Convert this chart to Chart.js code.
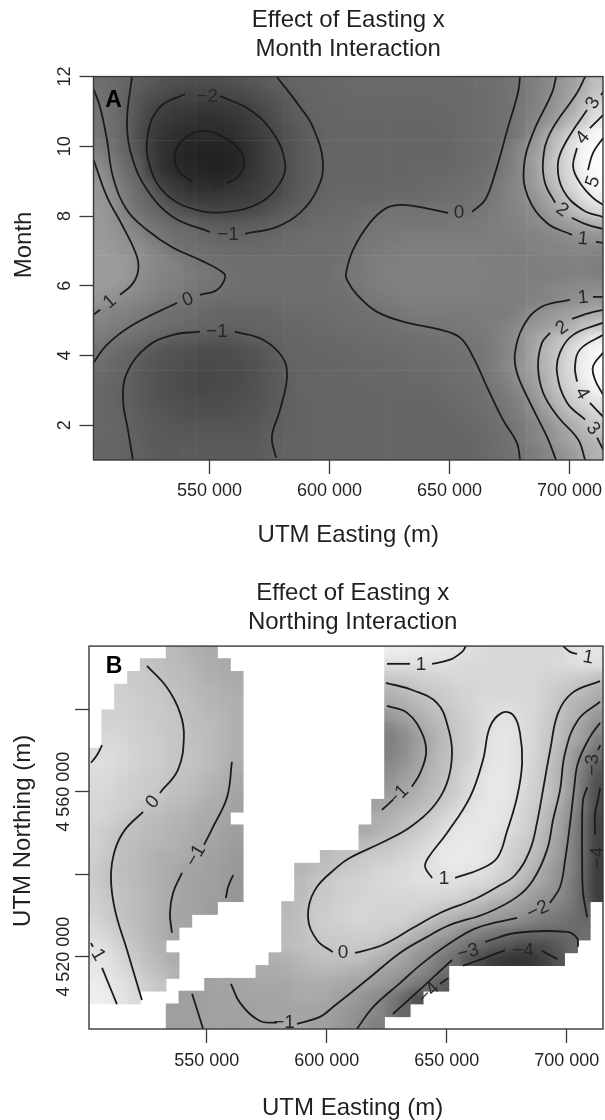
<!DOCTYPE html>
<html>
<head>
<meta charset="utf-8">
<script src="https://cdn.jsdelivr.net/npm/chart.js@4/dist/chart.umd.min.js"></script>
<style>
body { margin: 0; background: #fff; width: 605px; height: 1120px; position: relative; overflow: hidden; }
canvas { position: absolute; left: 0; }
#panelA { top: 0; }
#panelB { top: 560px; }
</style>
</head>
<body>
<canvas id="panelA" width="605" height="560"></canvas>
<canvas id="panelB" width="605" height="560"></canvas>
<script>
// axes in km, months for panel A, northing km for panel B
const xRangeA = [501.67, 713.96];
const yRangeA = [1, 12];
const xRangeB = [500.96, 715.1];
const yRangeB = [4502.47, 4595.3];
const xTicks = [550, 600, 650, 700];
const monthTicks = [2, 4, 6, 8, 10, 12];
const northingTicks = [4520, 4540, 4560, 4580];
const northingLabelled = [4520, 4560];

// effect x 10 -> gray level
const grayStopsA = [[-40,26],[-30,45],[-20,69],[-10,97],[0,115],[10,142],[50,250],[60,255]];
const grayStopsB = [[-55,41],[20,251]];

// grid cell centres
const eastA = [504.3,509.6,514.9,520.2,525.5,530.8,536.1,541.4,546.8,552.1,557.4,562.7,568.0,573.3,578.6,583.9,589.2,594.5,599.8,605.1,610.4,615.8,621.1,626.4,631.7,637.0,642.3,647.6,652.9,658.2,663.5,668.8,674.1,679.4,684.8,690.1,695.4,700.7,706.0,711.3];
const monthA = [11.82,11.45,11.08,10.72,10.35,9.98,9.62,9.25,8.88,8.52,8.15,7.78,7.42,7.05,6.68,6.32,5.95,5.58,5.22,4.85,4.48,4.12,3.75,3.38,3.02,2.65,2.28,1.92,1.55,1.18];
const eastB = [503.6,509.0,514.3,519.7,525.0,530.4,535.8,541.1,546.5,551.8,557.2,562.5,567.9,573.2,578.6,583.9,589.3,594.7,600.0,605.4,610.7,616.1,621.4,626.8,632.1,637.5,642.9,648.2,653.6,658.9,664.3,669.6,675.0,680.3,685.7,691.1,696.4,701.8,707.1,712.5];
const northB = [4593.8,4590.7,4587.6,4584.5,4581.4,4578.3,4575.2,4572.1,4569.0,4565.9,4562.8,4559.7,4556.6,4553.5,4550.4,4547.3,4544.2,4541.1,4538.0,4534.9,4531.8,4528.7,4525.6,4522.5,4519.4,4516.3,4513.2,4510.1,4507.0,4503.9];

// effect x 10, one row per month band
const effectA = [
[-2,-5,-8,-11,-13,-15,-16,-17,-17,-17,-16,-15,-14,-12,-10,-9,-8,-7,-6,-6,-5,-5,-5,-5,-5,-5,-5,-5,-5,-4,-3,-2,-1,1,4,7,12,16,21,28],
[-1,-5,-9,-13,-16,-18,-20,-21,-21,-21,-20,-19,-17,-15,-13,-11,-9,-8,-7,-6,-6,-6,-6,-6,-6,-6,-6,-5,-5,-5,-4,-3,-1,1,4,8,12,18,24,31],
[0,-4,-9,-14,-19,-22,-24,-25,-26,-26,-25,-24,-21,-18,-15,-12,-10,-8,-7,-7,-6,-6,-6,-6,-6,-6,-6,-6,-5,-5,-4,-3,-1,2,5,9,14,20,29,38],
[1,-3,-9,-15,-21,-24,-26,-28,-29,-29,-28,-26,-23,-20,-16,-13,-11,-9,-7,-7,-7,-7,-7,-7,-7,-7,-7,-6,-6,-5,-4,-3,-1,2,6,11,17,25,33,43],
[1,-3,-9,-16,-23,-27,-29,-31,-31,-31,-30,-28,-25,-22,-18,-15,-12,-10,-8,-7,-7,-7,-7,-7,-7,-7,-7,-7,-6,-5,-4,-3,-1,2,9,18,27,35,42,50],
[3,-1,-8,-15,-23,-28,-31,-33,-34,-34,-34,-31,-27,-23,-19,-15,-12,-10,-8,-7,-7,-7,-7,-7,-7,-7,-7,-7,-6,-5,-4,-2,2,7,13,21,30,40,48,54],
[7,2,-5,-12,-22,-28,-32,-35,-36,-36,-36,-33,-27,-23,-19,-15,-12,-10,-8,-7,-7,-7,-7,-7,-7,-7,-7,-7,-6,-5,-4,-1,3,8,15,24,32,39,49,56],
[10,5,-3,-10,-21,-27,-31,-33,-34,-35,-34,-31,-26,-23,-19,-15,-12,-10,-8,-7,-7,-7,-7,-7,-7,-6,-6,-6,-5,-4,-2,0,3,8,14,24,32,39,47,54],
[13,8,1,-5,-14,-22,-26,-29,-30,-30,-29,-26,-24,-22,-19,-15,-12,-10,-8,-7,-7,-7,-7,-6,-6,-6,-5,-5,-4,-3,-1,2,5,8,14,21,29,37,44,50],
[13,10,3,-3,-9,-15,-21,-24,-25,-25,-24,-24,-23,-20,-17,-14,-11,-9,-7,-6,-6,-6,-6,-5,-5,-5,-4,-3,-2,-1,0,2,5,8,12,17,24,32,40,45],
[14,11,5,0,-5,-10,-14,-17,-19,-20,-20,-19,-18,-16,-13,-11,-9,-7,-6,-5,-5,-3,-1,0,0,0,0,0,0,0,1,3,5,7,9,13,18,25,32,38],
[14,12,8,4,0,-3,-7,-9,-11,-12,-13,-12,-12,-11,-10,-8,-7,-5,-4,-4,-2,0,1,1,1,1,1,1,2,2,3,4,5,6,8,10,13,16,19,23],
[14,13,10,7,3,1,-2,-4,-6,-8,-9,-9,-8,-7,-6,-5,-4,-3,-3,-3,-1,1,2,2,3,3,3,3,3,3,3,4,4,5,6,7,8,10,11,12],
[15,14,12,11,7,4,0,-2,-3,-4,-5,-5,-5,-5,-4,-4,-3,-3,-3,-2,0,2,3,4,4,4,4,4,4,4,4,4,4,4,5,6,6,7,7,7],
[15,15,14,12,9,7,5,2,0,-1,-2,-3,-3,-3,-3,-3,-3,-3,-3,-1,1,3,4,4,5,5,5,5,5,5,4,4,4,4,4,5,5,5,5,4],
[15,15,14,10,8,6,5,3,2,0,-1,-2,-2,-3,-3,-3,-3,-3,-2,0,2,3,4,5,5,5,5,5,5,5,5,4,4,4,4,4,4,5,5,4],
[15,14,12,9,7,5,4,2,1,0,-1,-2,-2,-3,-3,-3,-3,-3,-2,-1,1,3,4,4,5,5,5,5,5,5,4,4,4,4,5,6,7,8,9,9],
[13,10,8,7,5,3,2,0,-2,-3,-4,-4,-4,-4,-4,-3,-3,-3,-2,-2,-1,1,2,3,4,4,4,4,4,4,4,4,4,4,5,6,8,10,12,13],
[8,6,5,3,1,-1,-2,-4,-5,-7,-8,-8,-8,-7,-6,-5,-5,-4,-4,-3,-2,-1,0,1,2,3,3,3,3,3,3,3,3,6,10,12,14,16,19,21],
[5,4,3,1,-1,-3,-4,-6,-8,-8,-9,-9,-9,-8,-7,-6,-6,-5,-5,-4,-3,-3,-2,-1,0,1,1,1,2,2,3,4,6,9,13,15,18,22,28,31],
[3,1,-1,-3,-6,-9,-11,-12,-13,-14,-14,-13,-11,-10,-9,-8,-7,-6,-6,-5,-5,-4,-4,-3,-3,-2,-1,0,0,1,2,4,7,12,17,22,28,32,39,44],
[-1,-3,-6,-9,-12,-14,-15,-16,-17,-17,-17,-16,-15,-13,-10,-8,-8,-7,-7,-6,-6,-5,-5,-5,-4,-3,-3,-2,-1,0,1,3,7,10,18,25,30,38,45,49],
[-3,-6,-8,-11,-14,-15,-16,-17,-18,-18,-17,-17,-16,-14,-12,-9,-8,-8,-7,-7,-6,-6,-6,-5,-5,-4,-4,-3,-2,-1,1,4,8,12,18,24,31,39,46,54],
[-5,-7,-9,-12,-14,-16,-17,-18,-19,-19,-18,-18,-16,-14,-12,-10,-8,-8,-7,-7,-7,-6,-6,-6,-6,-5,-5,-4,-3,-2,0,3,6,11,16,23,31,38,46,52],
[-6,-8,-10,-12,-14,-16,-17,-18,-19,-18,-18,-17,-16,-14,-12,-10,-8,-8,-7,-7,-7,-7,-7,-6,-6,-6,-6,-5,-4,-3,-2,1,4,8,14,21,29,36,42,48],
[-6,-8,-10,-12,-14,-15,-16,-17,-17,-17,-17,-16,-15,-14,-12,-10,-9,-8,-8,-7,-7,-7,-7,-7,-7,-7,-7,-6,-5,-4,-3,0,2,6,11,18,25,32,37,42],
[-6,-8,-9,-11,-13,-14,-15,-16,-16,-16,-16,-15,-15,-13,-11,-10,-9,-8,-8,-8,-7,-7,-7,-7,-7,-7,-7,-7,-6,-5,-4,-2,1,4,8,14,20,26,30,36],
[-6,-7,-9,-11,-12,-13,-14,-14,-14,-14,-14,-14,-14,-12,-11,-10,-9,-8,-8,-8,-8,-7,-7,-7,-7,-7,-7,-7,-7,-6,-5,-3,-1,2,6,10,15,20,26,31],
[-7,-8,-9,-10,-12,-13,-13,-13,-13,-13,-13,-13,-13,-11,-10,-9,-9,-8,-8,-8,-8,-8,-7,-7,-7,-7,-7,-7,-7,-7,-6,-4,-1,2,6,9,14,18,22,25],
[-7,-8,-9,-10,-11,-12,-12,-12,-12,-12,-12,-12,-12,-11,-10,-9,-9,-8,-8,-8,-8,-8,-7,-7,-7,-7,-7,-7,-7,-7,-6,-4,-2,0,3,6,10,14,20,23]
];

// panel B has holes, so each row is a list of runs: [first column, values...]
const effectB = [
[[6,-3,-5,-7,-9],[23,15,15,14,14,13,12,10,9,8,8,8,8,8,8,10,12,12]],
[[4,0,-1,-3,-4,-6,-8,-9],[23,10,10,10,10,10,9,8,8,7,7,7,7,7,8,9,10,10]],
[[3,3,2,0,-2,-3,-5,-7,-8,-9],[23,2,3,4,5,6,7,7,7,7,7,7,7,6,5,4,2,0]],
[[2,4,3,2,1,0,-2,-4,-5,-7,-8],[23,-5,-2,0,2,3,5,6,7,7,7,7,7,5,3,0,-3,-7]],
[[2,5,4,3,2,0,-1,-3,-5,-6,-7],[23,-9,-7,-4,-1,2,4,6,8,9,9,8,7,5,1,-4,-7,-10]],
[[1,5,5,4,3,2,1,-1,-2,-4,-5,-7],[23,-15,-11,-8,-4,-1,2,5,7,10,11,9,7,4,0,-5,-10,-16]],
[[1,6,6,5,4,2,1,0,-2,-3,-5,-7],[23,-22,-18,-12,-7,-3,1,4,8,11,12,10,7,3,-1,-7,-13,-20]],
[[1,8,7,5,4,3,1,0,-1,-3,-5,-7],[23,-24,-20,-14,-9,-4,1,4,8,12,13,10,7,3,-2,-9,-14,-25]],
[[0,9,9,8,6,4,3,1,0,-1,-3,-5,-7],[23,-23,-19,-13,-8,-3,1,4,9,12,13,10,7,2,-3,-13,-22,-31]],
[[0,10,9,7,6,4,3,1,0,-1,-3,-6,-8],[23,-20,-16,-11,-6,-2,2,6,10,12,13,10,6,2,-5,-13,-25,-37]],
[[0,9,8,6,4,3,2,0,-1,-3,-5,-7,-10],[23,-17,-13,-10,-5,-1,3,8,11,13,13,10,6,1,-6,-14,-28,-41]],
[[0,8,7,5,4,3,1,-1,-2,-4,-6,-8,-11],[23,-14,-10,-7,-3,0,4,8,11,13,13,9,5,1,-5,-14,-29,-42]],
[[0,7,6,5,3,1,-1,-3,-4,-6,-8,-9,-12],[22,-12,-9,-7,-4,-1,2,6,10,12,13,12,8,4,-1,-7,-17,-29,-42]],
[[0,7,5,3,0,-2,-3,-5,-6,-8,-9,-11],[22,-8,-6,-3,0,3,6,10,12,13,13,11,7,3,-3,-10,-19,-31,-45]],
[[0,5,3,0,-1,-3,-4,-6,-7,-9,-10,-12,-13],[21,-9,-6,-4,-1,2,5,9,12,13,13,12,10,6,2,-5,-11,-21,-32,-46]],
[[0,5,2,-1,-2,-4,-5,-6,-8,-10,-11,-12,-14],[21,-3,-1,1,3,6,9,12,13,14,13,11,7,4,0,-6,-13,-22,-32,-46]],
[[0,4,1,-1,-3,-5,-7,-8,-9,-10,-12,-13,-15],[18,-3,-1,0,2,3,4,6,8,10,13,14,14,13,11,6,2,-2,-8,-14,-22,-33,-47]],
[[0,3,0,-2,-3,-5,-7,-9,-11,-11,-13,-14,-15],[16,-5,-3,-1,1,3,4,6,7,8,10,11,12,13,12,11,8,5,0,-5,-11,-17,-23,-33,-48]],
[[0,3,0,-1,-3,-5,-7,-9,-11,-12,-13,-14,-16],[16,-3,0,2,4,5,6,7,8,9,10,10,10,10,9,8,6,2,-2,-8,-12,-18,-25,-34,-48]],
[[0,4,1,0,-2,-4,-7,-9,-11,-12,-13,-14,-16],[16,-3,1,2,4,5,6,6,7,7,7,8,7,7,4,2,-1,-4,-9,-13,-17,-19,-25,-35,-47]],
[[0,5,2,0,-2,-4,-7,-10,-11,-12,-14],[15,-4,-2,2,3,5,6,7,6,6,6,6,4,2,0,-3,-6,-10,-12,-14,-17,-20,-24,-27,-34]],
[[0,7,3,0,-2,-4,-7,-10,-11],[15,-3,-1,2,4,5,6,6,5,5,5,1,-1,-5,-8,-11,-13,-15,-17,-20,-23,-26,-28,-30,-33]],
[[0,9,6,2,-1,-4,-7,-10],[15,-3,-1,2,3,3,4,4,4,2,0,-5,-9,-12,-16,-21,-24,-27,-29,-31,-32,-33,-33,-32,-30]],
[[0,11,9,5,1,-3,-6],[15,-2,-1,0,1,2,2,2,0,-4,-8,-11,-16,-20,-25,-29,-33,-37,-39,-42,-43,-42,-38,-33]],
[[0,12,11,7,3,-1,-4,-8],[14,-7,-6,-4,-2,-1,-1,-1,-3,-6,-9,-11,-17,-20,-26,-30,-39,-43,-48,-50,-51,-50,-46,-40]],
[[0,13,12,9,5,1,-2,-6],[13,-9,-9,-8,-6,-5,-4,-5,-7,-8,-11,-13,-15,-19,-24,-30]],
[[0,15,13,11,8,4,1],[9,-12,-11,-11,-10,-10,-10,-10,-9,-8,-9,-10,-11,-12,-14,-17,-21,-27,-31,-37]],
[[0,16,15,12,9],[7,-13,-13,-12,-12,-11,-11,-11,-11,-10,-9,-9,-10,-12,-14,-17,-20,-26,-32,-40]],
[[6,-13,-13,-13,-12,-12,-12,-12,-11,-11,-11,-11,-11,-12,-14,-16,-19,-21,-27,-33]],
[[6,-13,-13,-12,-12,-12,-12,-11,-11,-10,-10,-10,-12,-13,-15,-18,-21,-24]]
];

// contour pieces, [easting km, month]
const contoursA = [
[[501.7,11.64],[504.4,11.13],[507.3,10.18],[509.8,9.12],[515.6,8.17],[524.0,7.60],[534.8,7.09],[546.0,6.74],[555.2,6.40],[556.5,6.23],[553.1,5.88],[546.0,5.74]],
[[536.5,5.51],[518.1,4.88],[507.3,4.31],[501.7,3.79]],
[[501.7,9.61],[507.3,8.55],[514.0,7.69],[519.8,6.83],[520.2,6.40],[517.7,6.03],[512.7,5.74]],
[[504.4,5.31],[501.7,5.17]],
[[517.7,11.99],[515.6,10.67],[517.7,9.69],[524.0,8.75],[534.8,7.97],[550.2,7.54]],
[[564.8,7.49],[578.1,7.69],[587.7,8.09],[594.8,8.75],[597.3,9.52],[593.1,10.55],[587.7,11.13],[578.1,11.99]],
[[554.4,11.44],[566.9,11.04],[576.5,10.38],[581.5,9.52],[579.4,8.95],[571.0,8.38],[557.3,8.12],[544.8,8.17],[532.3,8.60],[525.2,9.41],[524.4,10.38],[529.4,11.13],[539.8,11.50]],
[[557.3,8.95],[561.9,9.12],[564.4,9.52],[562.7,9.89],[555.6,10.27],[547.3,10.44],[539.8,10.24],[535.6,9.81],[536.9,9.32],[542.7,8.98]],
[[679.4,11.99],[678.5,11.53],[674.4,10.55],[669.0,9.23],[664.8,8.46],[659.4,8.12]],
[[649.4,8.09],[639.0,8.24],[630.6,8.32],[624.0,8.24],[616.9,7.81],[609.8,7.03],[606.9,6.37],[607.3,6.17],[611.5,5.74],[619.8,5.25],[632.3,4.94],[646.0,4.74],[654.4,4.51],[659.8,3.96],[665.6,3.10],[672.3,2.15],[678.1,1.49],[679.4,1]],
[[694.4,11.99],[692.7,11.53],[684.8,10.38],[681.0,9.41],[682.7,8.55],[690.6,7.80],[701.0,7.46]],
[[711.0,7.26],[714,7.23]],
[[706.5,11.99],[703.1,11.53],[691.9,10.38],[689.0,9.61],[689.8,8.95],[694.0,8.38]],
[[701.0,7.95],[707.3,7.75],[714,7.63]],
[[707.3,11.04],[699.0,10.18],[695.2,9.52],[697.3,8.75],[705.6,8.17],[714,7.97]],
[[713.1,11.47],[714,11.56]],
[[708.5,10.52],[714,10.90]],
[[703.1,9.95],[701.5,9.41],[704.4,8.95],[709.8,8.52],[714,8.32]],
[[714,10.24],[709.8,9.81],[707.7,9.32]],
[[694.4,1],[690.6,1.67],[683.5,2.65],[678.1,3.50],[677.3,4.08],[680.6,4.82],[687.7,5.37],[700.2,5.60]],
[[709.8,5.68],[714,5.68]],
[[706.5,1],[703.6,1.59],[695.2,2.24],[689.0,2.93],[686.9,3.68],[688.5,4.36],[691.9,4.65]],
[[701.0,5.05],[708.5,5.22],[714,5.31]],
[[706.5,2.16],[699.0,2.64],[694.8,3.50],[696.0,4.08],[701.5,4.59],[714,4.94]],
[[711.5,1.64],[714,1.30]],
[[703.1,3.25],[702.3,3.68],[704.4,4.17],[714,4.59]],
[[708.5,2.64],[714,2.24]],
[[714,4.08],[709.8,3.68],[710.6,3.31],[714,2.87]],
[[518.1,1],[516.0,1.87],[514.0,2.73],[515.6,3.50],[524.0,4.25],[534.8,4.59],[546.0,4.68]],
[[560.6,4.68],[572.3,4.45],[580.6,3.93],[582.3,3.39],[579.4,2.44],[576.0,1.67],[577.7,1.07]]
];

// contour pieces, [easting km, northing km]
const contoursB = [
[[525.1,4590.5],[533.5,4585.2],[538.9,4579.1],[540.5,4573.3],[538.0,4565.3],[530.5,4559.7]],
[[523.5,4555.1],[516.0,4550.8],[511.8,4545.9],[510.1,4539.3],[511.8,4531.3],[516.8,4521.6],[523.0,4509.5]],
[[560.5,4567.2],[558.5,4558.7],[552.6,4551.4],[548.9,4547.1]],
[[539.7,4540.3],[536.0,4535.5],[534.7,4530.6],[535.5,4525.8]],
[[561.0,4539.8],[558.9,4536.9],[558.0,4534.2]],
[[506.4,4571.3],[504.3,4568.9],[501.8,4567.0]],
[[506.4,4517.3],[512.6,4508.5]],
[[501.8,4523.3],[502.6,4522.4]],
[[543.9,4511.0],[548.5,4502.5]],
[[560.1,4513.4],[563.9,4508.8],[572.2,4504.4],[579.3,4504.0]],
[[587.6,4503.7],[597.2,4505.4],[602.6,4507.8],[616.8,4514.4],[630.5,4520.9],[641.8,4524.8],[651.4,4527.7],[666.8,4530.6],[679.3,4534.5],[686.0,4538.6],[691.8,4545.9],[694.3,4553.2],[697.2,4560.4],[699.3,4569.4],[704.7,4577.4],[713.9,4581.8]],
[[602.6,4521.1],[596.0,4524.0],[592.2,4529.6],[595.1,4536.2],[604.3,4541.7],[609.7,4544.0],[623.5,4547.8],[634.7,4551.4],[644.3,4556.3],[650.1,4562.1],[652.2,4569.4],[650.5,4575.7],[646.0,4581.5],[635.9,4584.6],[624.7,4586.4]],
[[611.8,4520.9],[623.5,4522.9],[636.0,4527.0],[647.2,4530.6],[661.0,4533.8],[670.9,4536.9],[678.5,4539.8],[684.7,4545.9],[687.6,4552.5],[690.1,4560.4],[693.1,4570.1],[696.4,4579.1],[702.2,4583.9],[713.9,4586.8]],
[[625.1,4580.8],[633.5,4579.1],[639.7,4574.2],[641.4,4569.4],[638.9,4564.5],[635.5,4561.2]],
[[627.6,4558.0],[623.0,4555.6]],
[[653.5,4539.1],[663.9,4541.2],[671.0,4543.9],[675.1,4550.4],[679.3,4558.7],[681.4,4566.9],[680.5,4574.2],[677.6,4578.6],[673.0,4579.1],[668.0,4575.7],[665.1,4567.7],[659.7,4558.7],[650.1,4550.0],[642.2,4543.9],[641.0,4541.7],[643.9,4539.1]],
[[625.1,4591.0],[634.7,4591.0]],
[[643.9,4591.0],[651.4,4592.0],[656.4,4593.9],[658.0,4595.3]],
[[698.5,4595.3],[701.4,4593.9],[704.3,4593.4]],
[[612.6,4502.5],[619.3,4507.8],[630.5,4513.6],[640.1,4518.5],[651.4,4523.3],[662.6,4527.0],[679.3,4529.4]],
[[693.0,4533.0],[697.2,4536.9],[699.3,4543.4],[701.4,4552.4],[703.0,4560.4],[704.7,4567.0],[709.7,4573.3],[713.9,4576.7]],
[[627.6,4506.1],[640.1,4512.7],[652.2,4519.2]],
[[666.0,4523.6],[679.3,4525.8],[700.1,4526.0],[704.3,4524.5],[704.7,4522.4]],
[[656.8,4517.8],[666.8,4519.9],[674.3,4521.6]],
[[689.7,4521.4],[696.0,4519.4]],
[[647.2,4513.4],[650.6,4514.8]],
[[708.5,4561.1],[706.8,4558.0],[706.4,4552.4],[706.4,4544.2],[706.8,4535.5],[708.5,4529.6]],
[[713.0,4570.1],[714,4571.3]],
[[713.9,4560.9],[713.0,4558.0],[711.8,4554.8],[711.8,4549.5]]
];

// contour labels: text, easting, y value, text angle
const labelsA = [
['\u22122',549.0,11.41,0],['\u22123',551.0,8.95,0],['\u22121',557.7,7.46,0],['\u22121',553.1,4.68,0],
['1',508.5,5.54,-40],['0',541.0,5.6,-20],['0',654.0,8.09,0],
['1',705.6,7.34,5],['2',696.9,8.17,35],['3',709.8,11.24,-60],['4',705.6,10.24,-50],['5',709.8,8.98,-70],
['1',705.6,5.65,-5],['2',696.9,4.79,-35],['3',709.8,1.9,50],['4',705.2,2.91,60]
];
const labelsB = [
['0',527.6,4557.5,-50],['\u22121',545.5,4544.5,-60],['1',504.7,4520.4,60],['\u22121',582.2,4504.0,0],
['0',606.8,4520.9,0],['\u22121',629.7,4559.0,-45],['1',648.9,4538.8,0],['1',639.3,4590.8,0],['1',708.9,4592.5,10],
['\u22122',688.0,4531.3,-25],['\u22123',658.9,4521.1,-15],['\u22124',681.8,4521.4,0],['\u22124',642.6,4511.2,-45],
['\u22123',711.0,4566.5,-90],['\u22124',713.0,4544.0,-90]
];

function grayFor(v, stops) {
    for (var i = 1; i < stops.length; i++) {
        if (v <= stops[i][0]) {
            var a = stops[i - 1], b = stops[i];
            return a[1] + (b[1] - a[1]) * (v - a[0]) / (b[0] - a[0]);
        }
    }
    return stops[stops.length - 1][1];
}

function heatDataset(xs, ys, rows, stops) {
    var points = [], colors = [];
    rows.forEach(function (runs, r) {
        runs.forEach(function (run) {
            run.slice(1).forEach(function (v, i) {
                var g = Math.max(0, Math.min(255, Math.round(grayFor(v, stops))));
                points.push({x: xs[run[0] + i], y: ys[r]});
                colors.push('rgb(' + g + ',' + g + ',' + Math.min(255, g + 2) + ')');
            });
        });
    });
    return {
        data: points,
        order: 10,
        pointStyle: 'rect',
        backgroundColor: colors,
        borderWidth: 0,
        pointBorderWidth: 0,
        pointRadius: function (c) {
            var sx = c.chart.scales.x;
            return (Math.abs(sx.getPixelForValue(xs[1]) - sx.getPixelForValue(xs[0])) + 0.7) * Math.SQRT1_2;
        }
    };
}

function contourDatasets(pieces) {
    return pieces.map(function (piece) {
        return {
            data: piece.map(function (p) { return {x: p[0], y: p[1]}; }),
            order: 1,
            showLine: true,
            tension: 0.4,
            borderColor: '#1d1a1b',
            borderWidth: 1.8,
            pointRadius: 0
        };
    });
}

// soften the heat cells, then frame, contour labels and the panel letter
const panelDecor = {
    id: 'panelDecor',
    afterDatasetDraw: function (chart, args) {
        if (args.index !== chart.data.datasets.length - 1) { return; }
        var a = chart.chartArea, ctx = chart.ctx;
        var off = document.createElement('canvas');
        off.width = chart.width;
        off.height = chart.height;
        var octx = off.getContext('2d');
        octx.filter = 'blur(4px)';
        octx.drawImage(chart.canvas, a.left, a.top, a.width, a.height, a.left, a.top, a.width, a.height);
        ctx.save();
        ctx.beginPath();
        ctx.rect(a.left, a.top, a.width, a.height);
        ctx.clip();
        ctx.globalCompositeOperation = 'source-atop';
        ctx.drawImage(off, 0, 0);
        ctx.restore();
    },
    afterDatasetsDraw: function (chart, args, opts) {
        var ctx = chart.ctx, a = chart.chartArea;
        ctx.save();
        ctx.beginPath();
        ctx.rect(a.left, a.top, a.width, a.height);
        ctx.clip();
        ctx.fillStyle = '#2a2728';
        ctx.font = '19px "Liberation Sans"';
        ctx.textAlign = 'center';
        ctx.textBaseline = 'middle';
        opts.labels.forEach(function (l) {
            ctx.save();
            ctx.translate(chart.scales.x.getPixelForValue(l[1]), chart.scales.y.getPixelForValue(l[2]));
            ctx.rotate(l[3] * Math.PI / 180);
            ctx.fillText(l[0], 0, 0);
            ctx.restore();
        });
        ctx.restore();

        ctx.save();
        ctx.strokeStyle = '#3a3839';
        ctx.lineWidth = 1.4;
        ctx.strokeRect(a.left, a.top, a.width, a.height);
        ctx.fillStyle = '#000';
        ctx.font = 'bold 23px "Liberation Sans"';
        ctx.textAlign = 'center';
        ctx.textBaseline = 'middle';
        ctx.fillText(opts.letter, a.left + opts.letterX, a.top + opts.letterY);
        ctx.restore();
    }
};

function drawPanel(id, cfg) {
    var tickFont = {family: '"Liberation Sans"', size: 18};
    var titleFont = {family: '"Liberation Sans"', size: 24, weight: 'normal', lineHeight: 1};
    var tickGrid = {drawOnChartArea: false, tickLength: 14, tickColor: '#3a3839', tickWidth: 1.3};
    new Chart(document.getElementById(id), {
        type: 'scatter',
        data: {datasets: contourDatasets(cfg.contours).concat([cfg.heat])},
        plugins: [panelDecor],
        options: {
            responsive: false,
            animation: false,
            events: [],
            layout: {padding: {right: 2}},
            plugins: {
                legend: {display: false},
                tooltip: {enabled: false},
                title: {
                    display: true,
                    text: cfg.title,
                    fullSize: false,
                    color: '#231f20',
                    font: {family: '"Liberation Sans"', size: 24, weight: 'normal', lineHeight: 1.21},
                    padding: cfg.titlePadding
                },
                panelDecor: {labels: cfg.labels, letter: cfg.letter, letterX: cfg.letterX, letterY: cfg.letterY}
            },
            scales: {
                x: {
                    type: 'linear',
                    min: cfg.xRange[0],
                    max: cfg.xRange[1],
                    border: {display: false},
                    grid: tickGrid,
                    afterBuildTicks: function (s) { s.ticks = xTicks.map(function (v) { return {value: v}; }); },
                    afterFit: function (s) { s.height = cfg.xHeight; s.paddingLeft = 0; s.paddingRight = 0; },
                    ticks: {
                        font: tickFont, color: '#231f20', padding: cfg.xTickPadding, autoSkip: false, maxRotation: 0,
                        callback: function (v) { return v + ' 000'; }
                    },
                    title: {display: true, text: cfg.xTitle, color: '#231f20', font: titleFont, padding: {top: 0, bottom: cfg.xTitleBottom}}
                },
                y: {
                    type: 'linear',
                    min: cfg.yRange[0],
                    max: cfg.yRange[1],
                    border: {display: false},
                    grid: tickGrid,
                    afterBuildTicks: function (s) { s.ticks = cfg.yTicks.map(function (v) { return {value: v}; }); },
                    afterFit: function (s) { s.width = cfg.yWidth; s.paddingTop = 0; s.paddingBottom = 0; },
                    ticks: {
                        font: tickFont, color: '#231f20', padding: cfg.yTickPadding, autoSkip: false,
                        minRotation: 90, maxRotation: 90, crossAlign: 'center',
                        callback: cfg.yLabel
                    },
                    title: {display: true, text: cfg.yTitle, color: '#231f20', font: titleFont, padding: {top: cfg.yTitleTop, bottom: 0}}
                }
            }
        }
    });
}

drawPanel('panelA', {
    title: ['Effect of Easting x', 'Month Interaction'],
    titlePadding: {top: 5.5, bottom: 13},
    letter: 'A', letterX: 20, letterY: 24,
    xRange: xRangeA, yRange: yRangeA,
    yTicks: monthTicks,
    yLabel: function (v) { return String(v); },
    xTitle: 'UTM Easting (m)',
    yTitle: '       Month',
    yTitleTop: 12, yWidth: 93.5, yTickPadding: 4.5,
    xHeight: 100, xTitleBottom: 13, xTickPadding: 6,
    contours: contoursA,
    labels: labelsA,
    heat: heatDataset(eastA, monthA, effectA.map(function (r) { return [[0].concat(r)]; }), grayStopsA)
});

drawPanel('panelB', {
    title: ['  Effect of Easting x', '  Northing Interaction'],
    titlePadding: {top: 18.5, bottom: 9.5},
    letter: 'B', letterX: 25, letterY: 21,
    xRange: xRangeB, yRange: yRangeB,
    yTicks: northingTicks,
    yLabel: function (v) {
        if (northingLabelled.indexOf(v) < 0) { return ''; }
        var s = String(v);
        return s[0] + ' ' + s.slice(1) + ' 000';
    },
    xTitle: '  UTM Easting (m)',
    yTitle: '  UTM Northing (m)',
    yTitleTop: 11, yWidth: 89, yTickPadding: -29,
    xHeight: 91, xTitleBottom: 0, xTickPadding: 7,
    contours: contoursB,
    labels: labelsB,
    heat: heatDataset(eastB, northB, effectB, grayStopsB)
});
</script>
</body>
</html>
